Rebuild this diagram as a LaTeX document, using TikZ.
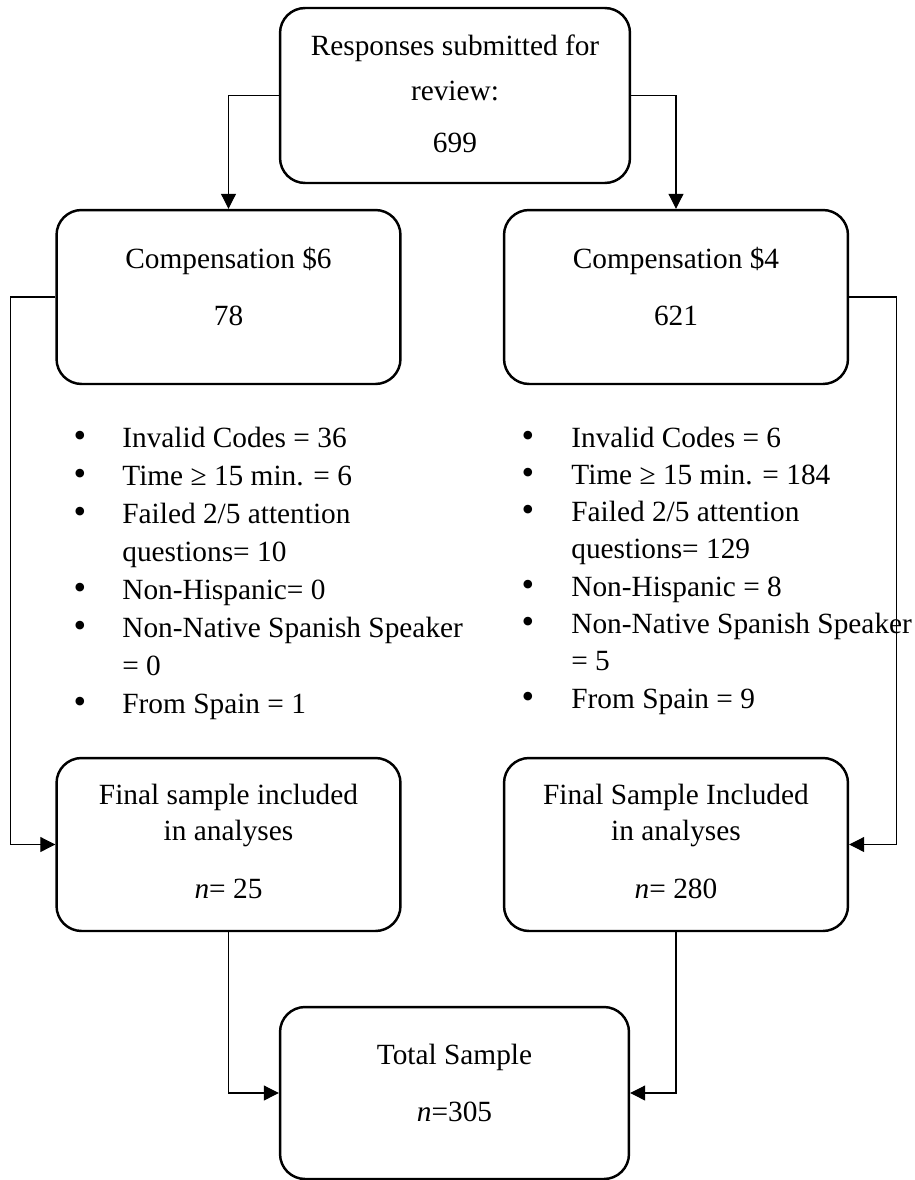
\documentclass[tikz,border=0pt]{standalone}
\usepackage{fontspec}
\setmainfont{Liberation Serif}
\usetikzlibrary{arrows.meta}

\tikzset{
  box/.style={draw, line width=1.4pt, rounded corners=0.5cm, inner sep=0pt},
  txt/.style={anchor=base, inner sep=0pt, font=\fontsize{16.7}{20}\selectfont},
  dot/.style={anchor=center, inner sep=0pt, font=\fontsize{20.5}{20.5}\selectfont},
  link/.style={line width=0.6pt, -{Triangle[length=0.3cm,width=0.3cm]}}
}

\begin{document}
\begin{tikzpicture}[x=0.02cm, y=-0.02cm]
\useasboundingbox (0,0) rectangle (915,1180);

% boxes
\node[box, minimum width=7cm,    minimum height=3.5cm]  (resp)   at (455,95.5)    {};
\node[box, minimum width=6.88cm, minimum height=3.48cm] (comp6)  at (228.5,297)   {};
\node[box, minimum width=6.88cm, minimum height=3.48cm] (comp4)  at (676,297)     {};
\node[box, minimum width=6.88cm, minimum height=3.46cm] (final6) at (228.5,844.5) {};
\node[box, minimum width=6.88cm, minimum height=3.46cm] (final4) at (676,844.5)   {};
\node[box, minimum width=6.98cm, minimum height=3.44cm] (total)  at (454.5,1093)  {};

% box texts
\node[txt] (resp1) at (455,55)  {Responses submitted for};
\node[txt] (resp2) at (455,100) {review:};
\node[txt] (resp3) at (455,152) {699};

\node[txt] (comp6a) at (228.5,268) {Compensation \$6};
\node[txt] (comp6b) at (228.5,325) {78};
\node[txt] (comp4a) at (676,268)   {Compensation \$4};
\node[txt] (comp4b) at (676,325)   {621};

\node[txt] (final6a) at (228.5,804) {Final sample included};
\node[txt] (final6b) at (228.5,840) {in analyses};
\node[txt] (final6c) at (228.5,898) {\textit{n}= 25};
\node[txt] (final4a) at (676,804)   {Final Sample Included};
\node[txt] (final4b) at (676,840)   {in analyses};
\node[txt] (final4c) at (676,898)   {\textit{n}= 280};

\node[txt] (total1) at (454.5,1064) {Total Sample};
\node[txt] (total2) at (454.5,1121) {\textit{n}=305};

% exclusion lists
\foreach \t [count=\i] in {Invalid Codes = 36, Time ≥ 15 min. = 6, Failed 2/5 attention, questions= 10, Non-Hispanic= 0, Non-Native Spanish Speaker, = 0, From Spain = 1}
  \node[txt, anchor=base west] (exA\i) at (122,{447+(\i-1)*38}) {\t};
\foreach \i in {1,2,3,5,6,8}
  \node[dot] (bA\i) at (80,{439+(\i-1)*38}) {\textbullet};

\foreach \t [count=\i] in {Invalid Codes = 6, Time ≥ 15 min. = 184, Failed 2/5 attention, questions= 129, Non-Hispanic = 8, Non-Native Spanish Speaker, = 5, From Spain = 9}
  \node[txt, anchor=base west] (exB\i) at (571,{447+(\i-1)*37.3}) {\t};
\foreach \i in {1,2,3,5,6,8}
  \node[dot] (bB\i) at (528,{439+(\i-1)*37.3}) {\textbullet};

% connectors
\draw[link] (resp.west) -| (comp6.north);
\draw[link] (resp.east) -| (comp4.north);
\draw[link] (comp6.west) -- ++(-45,0) |- (final6.west);
\draw[link] (comp4.east) -- ++(47,0) |- (final4.east);
\draw[link] (final6.south) |- (total.west);
\draw[link] (final4.south) |- (total.east);

\end{tikzpicture}
\end{document}
